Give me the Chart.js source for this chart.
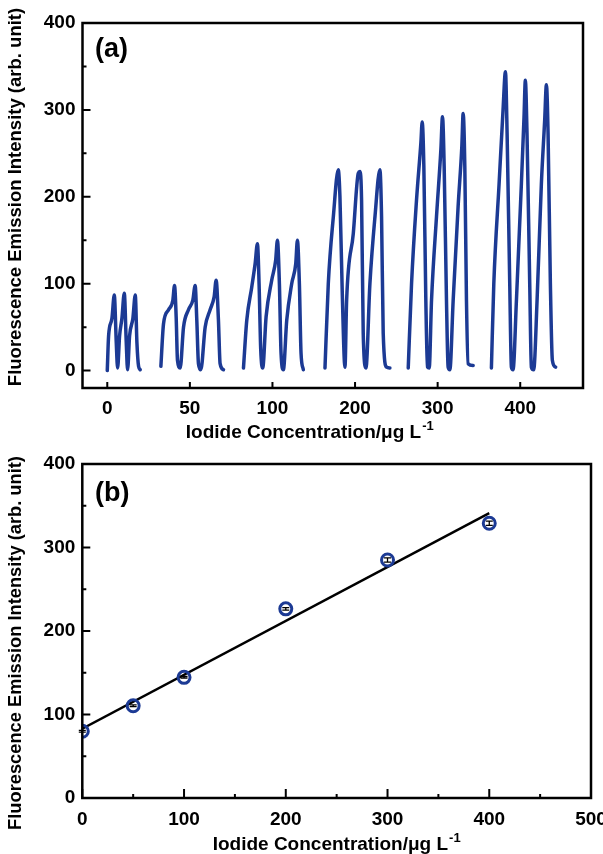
<!DOCTYPE html>
<html>
<head>
<meta charset="utf-8">
<script src="https://cdn.jsdelivr.net/npm/chart.js@4.4.1/dist/chart.umd.min.js"></script>
<style>
  html, body { margin: 0; padding: 0; background: #fff; }
  #wrap { position: relative; width: 603px; height: 854px; }
  #topChart { position: absolute; left: 0; top: 0; }
  #bottomChart { position: absolute; left: 0; top: 448px; }
</style>
</head>
<body>
<div id="wrap">
  <canvas id="topChart" width="603" height="448"></canvas>
  <canvas id="bottomChart" width="603" height="406"></canvas>
</div>
<script>
// panel (a): flow injection traces, three injections per concentration
// time axis is arbitrary; labels sit at the injection positions
const injectionTimes = [0, 100, 200, 300, 400, 500];
const concLabels = ['0', '50', '100', '200', '300', '400'];
const intensityTicks = [0, 100, 200, 300, 400];
const intensityMinor = [50, 150, 250, 350];

const time0 = [0, 1.6, 5.6, 8.5, 10.9, 12.5, 14.9, 17.7, 20.6, 23.0, 24.6, 27.0, 31.0, 33.9, 35.9, 37.9, 39.9];
const signal0 = [0, 40, 60, 87, 32, 3, 40, 60, 89, 32, 1, 40, 60, 87, 32, 5, 1];

const time50 = [64.9, 68.1, 74.2, 79.4, 81.4, 83.4, 85.0, 88.3, 92.3, 98.3, 103.6, 106.4, 108.4, 110.4, 113.3, 118.5, 124.5, 129.4, 131.8, 134.6, 136.6, 140.7];
const signal50 = [5, 54, 70, 81, 98, 62, 12, 3, 50, 70, 81, 98, 58, 8, 1, 50, 70, 85, 104, 58, 8, 1];

const time100 = [164.9, 168.9, 174.9, 179.0, 181.8, 183.8, 185.8, 188.2, 192.3, 199.1, 203.9, 206.0, 208.4, 210.4, 213.2, 217.3, 223.3, 228.2, 230.2, 232.6, 234.6, 237.4];
const signal100 = [3, 58, 96, 123, 146, 100, 24, 3, 62, 104, 127, 150, 100, 20, 1, 58, 100, 123, 150, 100, 20, 1];

const time200 = [263.6, 267.6, 273.7, 279.7, 281.7, 284.5, 287.8, 289.8, 297.9, 303.9, 305.9, 307.9, 309.9, 313.2, 318.0, 324.1, 330.1, 332.1, 334.1, 338.2, 342.2];
const signal200 = [3, 100, 177, 231, 200, 90, 4, 81, 158, 227, 229, 196, 43, 3, 100, 177, 231, 177, 43, 4, 3];

const time300 = [364.4, 368.4, 374.4, 379.7, 381.3, 383.3, 385.7, 387.7, 389.8, 392.6, 398.6, 403.9, 405.9, 407.9, 410.7, 412.7, 414.8, 418.8, 424.8, 429.3, 430.9, 432.9, 434.9, 436.9, 443.0];
const signal300 = [3, 100, 196, 262, 286, 235, 81, 4, 3, 81, 177, 254, 292, 235, 81, 4, 1, 81, 189, 258, 296, 235, 81, 8, 6];

const time400 = [465.1, 468.0, 474.4, 479.2, 482.1, 484.1, 487.3, 489.3, 491.3, 495.4, 501.4, 504.6, 506.2, 508.2, 511.5, 513.5, 516.3, 520.4, 525.6, 529.6, 531.7, 533.7, 536.5, 538.9, 542.9];
const signal400 = [3, 100, 215, 300, 344, 273, 100, 4, 1, 81, 215, 292, 334, 273, 100, 4, 1, 81, 215, 288, 329, 273, 100, 12, 4];

// panel (b): calibration
const concentrations = [0, 50, 100, 200, 300, 400];
const meanIntensity = [80, 110.5, 144.5, 226.5, 285, 329];
const intensityError = [1, 1, 1, 1.5, 2.5, 2.5];
const concTicks = [0, 100, 200, 300, 400, 500];
const concMinor = [50, 150, 250, 350, 450];

const traceBlue = '#1c3a94';
const FONT = '"Liberation Sans", Arial, sans-serif';
const yTitle = 'Fluorescence Emission Intensity (arb. unit)';
const xTitle = 'Iodide Concentration/\u03bcg L';

// least squares line for panel (b)
function linearFit(xs, ys) {
  const n = xs.length;
  const mx = xs.reduce((a, b) => a + b, 0) / n;
  const my = ys.reduce((a, b) => a + b, 0) / n;
  let sxy = 0, sxx = 0;
  xs.forEach((x, i) => { sxy += (x - mx) * (ys[i] - my); sxx += (x - mx) * (x - mx); });
  const slope = sxy / sxx;
  return { slope, intercept: my - slope * mx };
}
const fit = linearFit(concentrations, meanIntensity);
const fitEnds = [0, 400];

function pairs(xs, ys) {
  return xs.map((x, i) => ({ x: x, y: ys[i] }));
}

function traceSet(xs, ys) {
  return {
    data: pairs(xs, ys),
    borderColor: traceBlue,
    borderWidth: 3.5,
    pointRadius: 0,
    cubicInterpolationMode: 'monotone',
    borderJoinStyle: 'round',
    borderCapStyle: 'round'
  };
}

// frame, inward ticks, titles and panel letter
const decorations = {
  id: 'decorations',
  afterDraw(chart, args, o) {
    const { ctx, chartArea: a, scales } = chart;
    const xs = scales.x, ys = scales.y;
    ctx.save();
    ctx.strokeStyle = '#000';
    ctx.lineCap = 'butt';
    ctx.lineWidth = 2;
    ctx.beginPath();
    ys.ticks.forEach(t => {
      const p = ys.getPixelForValue(t.value);
      ctx.moveTo(a.left, p); ctx.lineTo(a.left + 8, p);
    });
    (o.yMinor || []).forEach(v => {
      const p = ys.getPixelForValue(v);
      ctx.moveTo(a.left, p); ctx.lineTo(a.left + 4, p);
    });
    xs.ticks.forEach(t => {
      const p = xs.getPixelForValue(t.value);
      ctx.moveTo(p, a.bottom); ctx.lineTo(p, a.bottom - o.xTickLen);
    });
    (o.xMinor || []).forEach(v => {
      const p = xs.getPixelForValue(v);
      ctx.moveTo(p, a.bottom); ctx.lineTo(p, a.bottom - 4);
    });
    ctx.stroke();

    ctx.lineWidth = 2.5;
    ctx.strokeRect(a.left, a.top, a.right - a.left, a.bottom - a.top);

    ctx.fillStyle = '#000';
    // y title
    ctx.save();
    ctx.translate(16, o.yTitleMid);
    ctx.rotate(-Math.PI / 2);
    ctx.font = 'bold ' + o.yTitleSize + 'px ' + FONT;
    ctx.textAlign = 'center';
    ctx.textBaseline = 'middle';
    ctx.fillText(yTitle, 0, 0);
    ctx.restore();

    // x title with superscript
    ctx.font = 'bold 19px ' + FONT;
    const w1 = ctx.measureText(xTitle).width;
    ctx.font = 'bold 13px ' + FONT;
    const w2 = ctx.measureText('-1').width;
    const cx = (a.left + a.right) / 2 + o.xTitleShift;
    const x0 = cx - (w1 + w2 + 1) / 2;
    ctx.textAlign = 'left';
    ctx.textBaseline = 'alphabetic';
    ctx.font = 'bold 19px ' + FONT;
    ctx.fillText(xTitle, x0, o.xTitleBase);
    ctx.font = 'bold 13px ' + FONT;
    ctx.fillText('-1', x0 + w1 + 1, o.xTitleBase - 8);

    // panel letter
    ctx.font = 'bold 27px ' + FONT;
    ctx.fillText(o.letter, 95, o.letterBase);
    ctx.restore();
  }
};

// small error bars inside the circles
const errorBars = {
  id: 'errorBars',
  afterDatasetsDraw(chart) {
    const { ctx, scales } = chart;
    ctx.save();
    ctx.strokeStyle = '#000';
    ctx.lineWidth = 1.3;
    ctx.beginPath();
    concentrations.forEach((c, i) => {
      const px = scales.x.getPixelForValue(c);
      const hi = scales.y.getPixelForValue(meanIntensity[i] + intensityError[i]);
      const lo = scales.y.getPixelForValue(meanIntensity[i] - intensityError[i]);
      ctx.moveTo(px, hi); ctx.lineTo(px, lo);
      ctx.moveTo(px - 3.5, hi); ctx.lineTo(px + 3.5, hi);
      ctx.moveTo(px - 3.5, lo); ctx.lineTo(px + 3.5, lo);
    });
    ctx.stroke();
    ctx.restore();
  }
};

function fixedAxis(size, isX) {
  return function (s) {
    if (isX) s.height = size; else s.width = size;
    s.paddingLeft = 0; s.paddingRight = 0; s.paddingTop = 0; s.paddingBottom = 0;
  };
}

const tickFont = { family: FONT, size: 19, weight: 'bold' };

new Chart(document.getElementById('topChart'), {
  type: 'line',
  data: {
    datasets: [
      traceSet(time0, signal0),
      traceSet(time50, signal50),
      traceSet(time100, signal100),
      traceSet(time200, signal200),
      traceSet(time300, signal300),
      traceSet(time400, signal400)
    ]
  },
  options: {
    responsive: false,
    animation: false,
    layout: { padding: { top: 23, right: 20, left: 0, bottom: 0 } },
    plugins: {
      legend: { display: false },
      tooltip: { enabled: false },
      decorations: { yMinor: intensityMinor, xTickLen: 6, yTitleMid: 197, yTitleSize: 18.5, xTitleShift: -23, xTitleBase: 438, letter: '(a)', letterBase: 57 }
    },
    scales: {
      x: {
        type: 'linear', min: -30, max: 576,
        grid: { display: false, drawTicks: false },
        border: { display: false },
        afterBuildTicks: s => { s.ticks = injectionTimes.map(v => ({ value: v })); },
        afterFit: fixedAxis(60, true),
        ticks: { color: '#000', font: tickFont, padding: 9, maxRotation: 0, callback: (v, i) => concLabels[i] }
      },
      y: {
        min: -20, max: 400,
        grid: { display: false, drawTicks: false },
        border: { display: false },
        afterBuildTicks: s => { s.ticks = intensityTicks.map(v => ({ value: v })); },
        afterFit: fixedAxis(82.5, false),
        ticks: { color: '#000', font: tickFont, padding: 7 }
      }
    }
  },
  plugins: [decorations]
});

new Chart(document.getElementById('bottomChart'), {
  type: 'scatter',
  data: {
    datasets: [
      {
        data: pairs(concentrations, meanIntensity),
        pointRadius: 6,
        pointBorderWidth: 3,
        pointBorderColor: traceBlue,
        pointBackgroundColor: 'rgba(255,255,255,0)',
        order: 0
      },
      {
        type: 'line',
        data: fitEnds.map(x => ({ x: x, y: fit.intercept + fit.slope * x })),
        borderColor: '#000',
        borderWidth: 2.5,
        pointRadius: 0,
        order: 1
      }
    ]
  },
  options: {
    responsive: false,
    animation: false,
    layout: { padding: { top: 16, right: 12, left: 0, bottom: 0 } },
    plugins: {
      legend: { display: false },
      tooltip: { enabled: false },
      decorations: { yMinor: intensityMinor, xMinor: concMinor, xTickLen: 9, yTitleMid: 195, yTitleSize: 18.3, xTitleShift: 0, xTitleBase: 402, letter: '(b)', letterBase: 53 }
    },
    scales: {
      x: {
        type: 'linear', min: 0, max: 500,
        grid: { display: false, drawTicks: false },
        border: { display: false },
        afterBuildTicks: s => { s.ticks = concTicks.map(v => ({ value: v })); },
        afterFit: fixedAxis(56, true),
        ticks: { color: '#000', font: tickFont, padding: 10, maxRotation: 0 }
      },
      y: {
        min: 0, max: 400,
        grid: { display: false, drawTicks: false },
        border: { display: false },
        afterBuildTicks: s => { s.ticks = intensityTicks.map(v => ({ value: v })); },
        afterFit: fixedAxis(82.3, false),
        ticks: { color: '#000', font: tickFont, padding: 7 }
      }
    }
  },
  plugins: [decorations, errorBars]
});
</script>
</body>
</html>
